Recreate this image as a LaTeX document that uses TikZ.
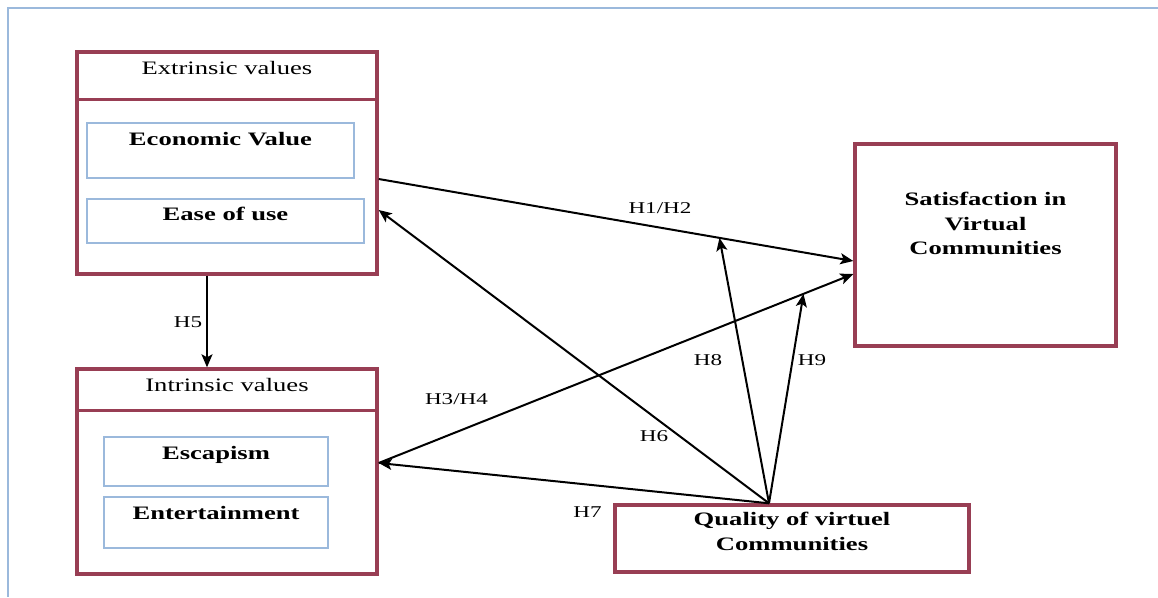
\documentclass[tikz,border=0pt]{standalone}
\usepackage{fontspec}
\setmainfont{Liberation Serif}[FakeStretch=1.4]
\usepackage{xcolor}
\usepackage{tikz}
\usetikzlibrary{arrows.meta, positioning, calc}
\definecolor{maroon}{RGB}{152,62,84}
\definecolor{paleblue}{RGB}{155,185,220}
\tikzstyle{arrow} = [line width=2pt,->,>={Stealth[length=13pt,width=11pt,inset=3pt]}]

\begin{document}
\begin{tikzpicture}[
    x=1pt, y=-1pt,
    outer/.style={rectangle, draw=maroon, line width=3.4pt, inner sep=0pt},
    inner/.style={rectangle, draw=paleblue, line width=2pt, inner sep=0pt},
    title/.style={inner sep=0pt, font=\fontsize{19}{24.5}\selectfont},
    boldtitle/.style={title, font=\fontsize{19}{24.5}\selectfont\bfseries, align=center},
    hyp/.style={inner sep=0pt, font=\fontsize{16.5}{20}\selectfont},
]
    \useasboundingbox (0,0) rectangle (1158,597);

    % Frame
    \draw[paleblue, line width=2.4pt] (1158,8) -- (8,8) -- (8,597);

    % Extrinsic values
    \node[outer, minimum width=300pt, minimum height=222pt] (ext) at (227,163) {};
    \draw[maroon, line width=3.4pt] ([yshift=-49pt]ext.north west) -- ([yshift=-49pt]ext.north east);
    \node[title, below=11pt of ext.north] (ext-t) {Extrinsic values};
    \node[inner, minimum width=267pt, minimum height=55pt] (econ) at (220.5,150.5) {};
    \node[boldtitle, below=10pt of econ.north] (econ-t) {Economic Value};
    \node[inner, minimum width=277pt, minimum height=44pt] (ease) at (225.5,221) {};
    \node[boldtitle, below=9pt of ease.north] (ease-t) {Ease of use};

    % Intrinsic values
    \node[outer, minimum width=300pt, minimum height=205pt] (intr) at (227,471.5) {};
    \draw[maroon, line width=3.4pt] ([yshift=-43pt]intr.north west) -- ([yshift=-43pt]intr.north east);
    \node[title, below=11pt of intr.north] (intr-t) {Intrinsic values};
    \node[inner, minimum width=224pt, minimum height=49pt] (esc) at (216,461.5) {};
    \node[boldtitle, below=10pt of esc.north] (esc-t) {Escapism};
    \node[inner, minimum width=224pt, minimum height=51pt] (ent) at (216,522.5) {};
    \node[boldtitle, below=10pt of ent.north] (ent-t) {Entertainment};

    % Satisfaction
    \node[outer, minimum width=261pt, minimum height=202pt] (sat) at (985.5,245) {};
    \node[boldtitle, below=50pt of sat.north] (sat-t) {Satisfaction in\\Virtual\\Communities};

    % Quality
    \node[outer, minimum width=354pt, minimum height=67pt] (qual) at (792,538.5) {};
    \node[boldtitle, below=9pt of qual.north] (qual-t) {Quality of virtuel\\Communities};

    % Connections
    \coordinate (qtop) at ([xshift=-23pt]qual.north);
    \coordinate (ext-a) at ([yshift=-16pt]ext.east);
    \coordinate (sat-a) at ([yshift=-16pt]sat.west);
    \coordinate (intr-a) at ([yshift=8.5pt]intr.east);
    \coordinate (sat-b) at ([yshift=-29pt]sat.west);
    \coordinate (h12) at ($(ext-a)!0.718!(sat-a)$);
    \coordinate (h34) at ($(intr-a)!0.895!(sat-b)$);

    \draw[arrow] (ext-a) -- (sat-a);
    \draw[arrow] ([xshift=-20pt]ext.south) -- ([xshift=-20pt]intr.north);
    \draw[arrow] (intr-a) -- (sat-b);
    \draw[arrow] (qtop) -- ([yshift=-47pt]ext.east);
    \draw[arrow] (qtop) -- (intr-a);
    \draw[arrow] (qtop) -- (h12);
    \draw[arrow] (qtop) -- (h34);

    % Labels
    \node[hyp] (l12) at (660,208) {H1/H2};
    \node[hyp] (l5) at (188,322.5) {H5};
    \node[hyp] (l34) at (456.5,399) {H3/H4};
    \node[hyp] (l6) at (654,436) {H6};
    \node[hyp] (l7) at (587.5,512) {H7};
    \node[hyp] (l8) at (708,360) {H8};
    \node[hyp] (l9) at (812,360) {H9};
\end{tikzpicture}
\end{document}
